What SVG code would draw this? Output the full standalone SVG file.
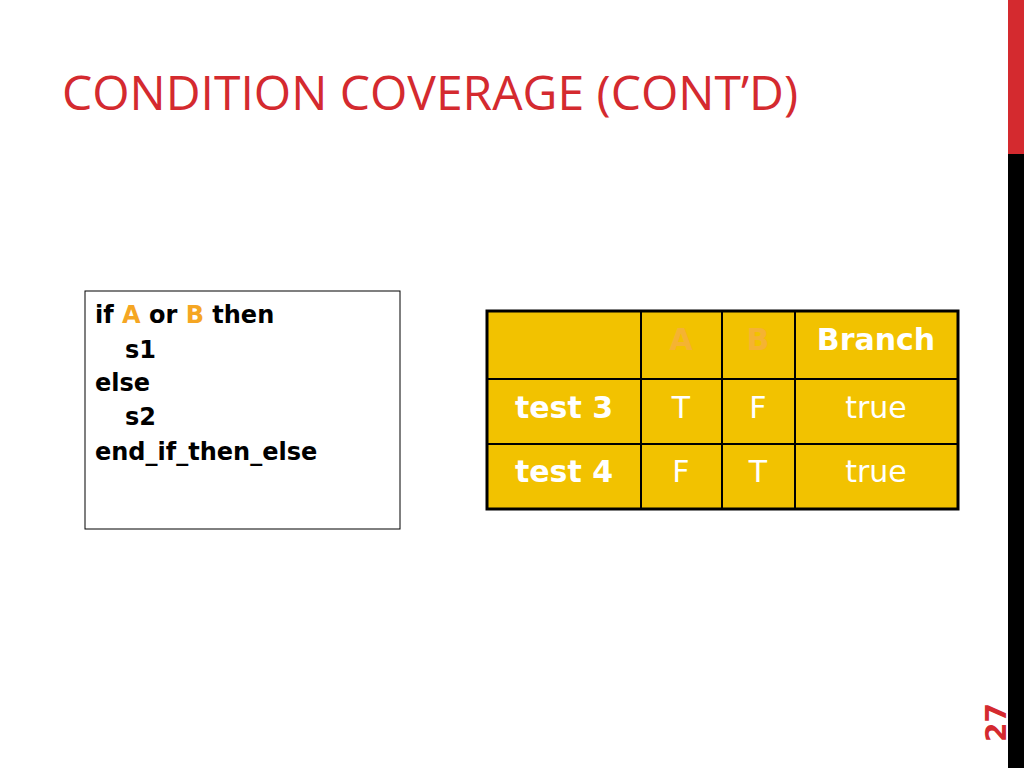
<svg xmlns="http://www.w3.org/2000/svg" width="1024" height="768" viewBox="0 0 1024 768">
<style>
.code{font-family:"DejaVu Sans",Verdana,sans-serif;font-weight:bold;font-size:24px;fill:#000}
.hl{fill:#F5A623}
.cell{fill:#F2C200;stroke:#000;stroke-width:2}
.t{font-family:"DejaVu Sans",Verdana,sans-serif;font-size:30px;fill:#fff;text-anchor:middle}
.b{font-weight:bold}
</style>
<rect width="1024" height="768" fill="#fff"/>
<rect x="1008" y="0" width="16" height="154" fill="#D42A2F"/>
<rect x="1008" y="154" width="16" height="614" fill="#000"/>
<text x="62" y="110" font-family="'Open Sans','DejaVu Sans',sans-serif" font-size="48" fill="#D42A2F">CONDITION COVERAGE (CONT’D)</text>
<text transform="translate(1006,742) rotate(-90)" font-family="'DejaVu Sans',sans-serif" font-weight="bold" font-size="28" fill="#D42A2F">27</text>
<g id="code">
<rect x="85" y="291" width="315" height="238" fill="#fff" stroke="#000" stroke-width="1"/>
<text class="code" x="95" y="323">if <tspan class="hl">A</tspan> or <tspan class="hl">B</tspan> then</text>
<text class="code" x="125" y="358">s1</text>
<text class="code" x="95" y="391">else</text>
<text class="code" x="125" y="425">s2</text>
<text class="code" x="95" y="460">end_if_then_else</text>
</g>
<g id="table">
<rect class="cell" x="487" y="311" width="154" height="68"/>
<rect class="cell" x="641" y="311" width="81" height="68"/>
<rect class="cell" x="722" y="311" width="73" height="68"/>
<rect class="cell" x="795" y="311" width="163" height="68"/>
<rect class="cell" x="487" y="379" width="154" height="65"/>
<rect class="cell" x="641" y="379" width="81" height="65"/>
<rect class="cell" x="722" y="379" width="73" height="65"/>
<rect class="cell" x="795" y="379" width="163" height="65"/>
<rect class="cell" x="487" y="444" width="154" height="65"/>
<rect class="cell" x="641" y="444" width="81" height="65"/>
<rect class="cell" x="722" y="444" width="73" height="65"/>
<rect class="cell" x="795" y="444" width="163" height="65"/>
<rect x="487" y="311" width="471" height="198" fill="none" stroke="#000" stroke-width="3"/>
<text class="t b" x="681" y="350" style="fill:#F5B332">A</text>
<text class="t b" x="758" y="350" style="fill:#F5B332">B</text>
<text class="t b" x="876" y="350">Branch</text>
<text class="t b" x="564" y="418">test 3</text>
<text class="t" x="681" y="418">T</text>
<text class="t" x="758" y="418">F</text>
<text class="t" x="876" y="418">true</text>
<text class="t b" x="564" y="482">test 4</text>
<text class="t" x="681" y="482">F</text>
<text class="t" x="758" y="482">T</text>
<text class="t" x="876" y="482">true</text>
</g>
</svg>
